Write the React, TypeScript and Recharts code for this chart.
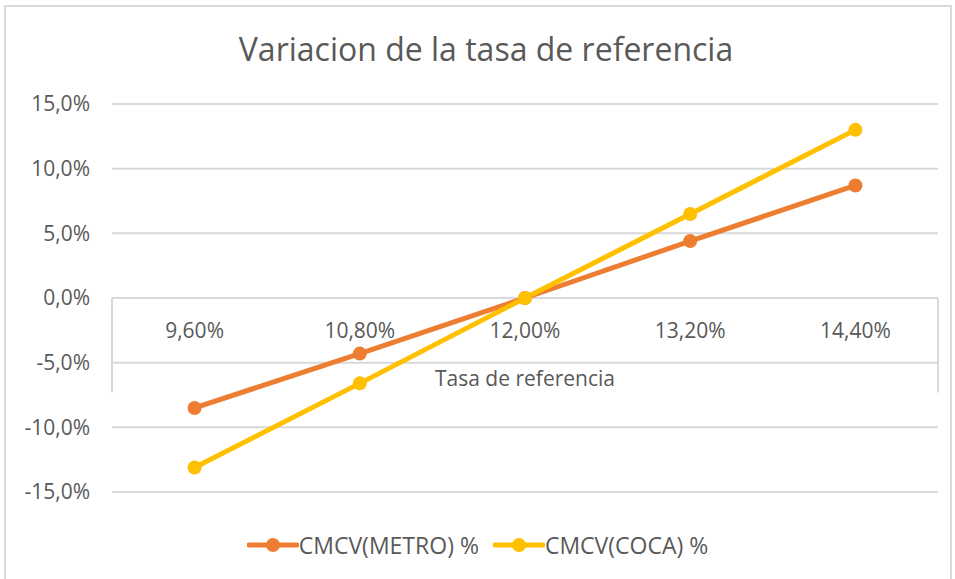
import { CartesianGrid, Legend, Line, LineChart, ReferenceDot, ReferenceLine, XAxis, YAxis } from "recharts";

const categories = ["9,60%", "10,80%", "12,00%", "13,20%", "14,40%"];
const metro = [-8.5, -4.3, 0, 4.4, 8.7];
const coca = [-13.1, -6.6, 0, 6.5, 13.0];
const yTicks = [-15, -10, -5, 0, 5, 10, 15];

const data = categories.map((c, i) => ({ idx: i + 1, label: c, metro: metro[i], coca: coca[i] }));

const FONT = "'Open Sans', sans-serif";
const TEXT = "#595959";
const GRID = "#d9d9d9";
const ORANGE = "#ED7D31";
const YELLOW = "#FFC000";

const fmt = (v: number) => v.toFixed(1).replace(".", ",") + "%";

const LegendContent = () => {
    const items = [
        { name: "CMCV(METRO) %", color: ORANGE },
        { name: "CMCV(COCA) %", color: YELLOW },
    ];
    return (
        <div style={{ display: "flex", justifyContent: "center", gap: 14, fontFamily: FONT, fontSize: 23, color: TEXT, height: 30 }}>
            {items.map((it) => (
                <div key={it.name} style={{ display: "flex", alignItems: "center" }}>
                    <svg width={52} height={20}>
                        <line x1={2} y1={10} x2={50} y2={10} stroke={it.color} strokeWidth={5} strokeLinecap="round" />
                        <circle cx={26} cy={10} r={7} fill={it.color} />
                    </svg>
                    <span>{it.name}</span>
                </div>
            ))}
        </div>
    );
};

const App = () => {
    return (
        <div style={{ position: "absolute", left: 0, top: 0, width: 955, height: 579, background: "white", overflow: "hidden" }}>
            <div style={{ position: "absolute", left: 4, top: 5, width: 944, height: 600, border: "2px solid #d9d9d9" }} />
            <div style={{ position: "absolute", top: 27, left: 0, width: 972, textAlign: "center", fontFamily: FONT, fontSize: 32, color: TEXT }}>
                Variacion de la tasa de referencia
            </div>
            <LineChart width={955} height={579} data={data} margin={{ top: 104, right: 17, left: 0, bottom: 57 }}>
                <CartesianGrid vertical={false} stroke={GRID} strokeWidth={2} />
                <XAxis dataKey="idx" type="number" domain={[0.5, 5.5]} hide />
                <YAxis
                    domain={[-15, 15]}
                    ticks={yTicks}
                    tickFormatter={fmt}
                    width={112}
                    axisLine={false}
                    tickLine={false}
                    tickSize={0}
                    tickMargin={22}
                    tick={{ fill: TEXT, fontSize: 21, fontFamily: FONT }}
                />
                <ReferenceLine segment={[{ x: 0.5, y: 0 }, { x: 0.5, y: -7.3 }]} stroke={GRID} strokeWidth={2} />
                <ReferenceLine segment={[{ x: 5.5, y: 0 }, { x: 5.5, y: -7.3 }]} stroke={GRID} strokeWidth={2} />
                {data.map((d) => (
                    <ReferenceDot
                        key={d.label}
                        x={d.idx}
                        y={-2.5}
                        r={1}
                        fill="none"
                        stroke="none"
                        label={{ value: d.label, position: "center", fill: TEXT, fontSize: 21, fontFamily: FONT }}
                    />
                ))}
                <ReferenceDot
                    x={3}
                    y={-6.2}
                    r={1}
                    fill="none"
                    stroke="none"
                    label={{ value: "Tasa de referencia", position: "center", fill: TEXT, fontSize: 21, fontFamily: FONT }}
                />
                <Line
                    dataKey="metro"
                    name="CMCV(METRO) %"
                    stroke={ORANGE}
                    strokeWidth={5}
                    dot={{ r: 7, fill: ORANGE, stroke: ORANGE, strokeWidth: 0 }}
                    isAnimationActive={false}
                />
                <Line
                    dataKey="coca"
                    name="CMCV(COCA) %"
                    stroke={YELLOW}
                    strokeWidth={5}
                    dot={{ r: 7, fill: YELLOW, stroke: YELLOW, strokeWidth: 0 }}
                    isAnimationActive={false}
                />
                <Legend content={<LegendContent />} wrapperStyle={{ top: 530, left: 0, width: 955 }} />
            </LineChart>
        </div>
    );
};

export default App;
